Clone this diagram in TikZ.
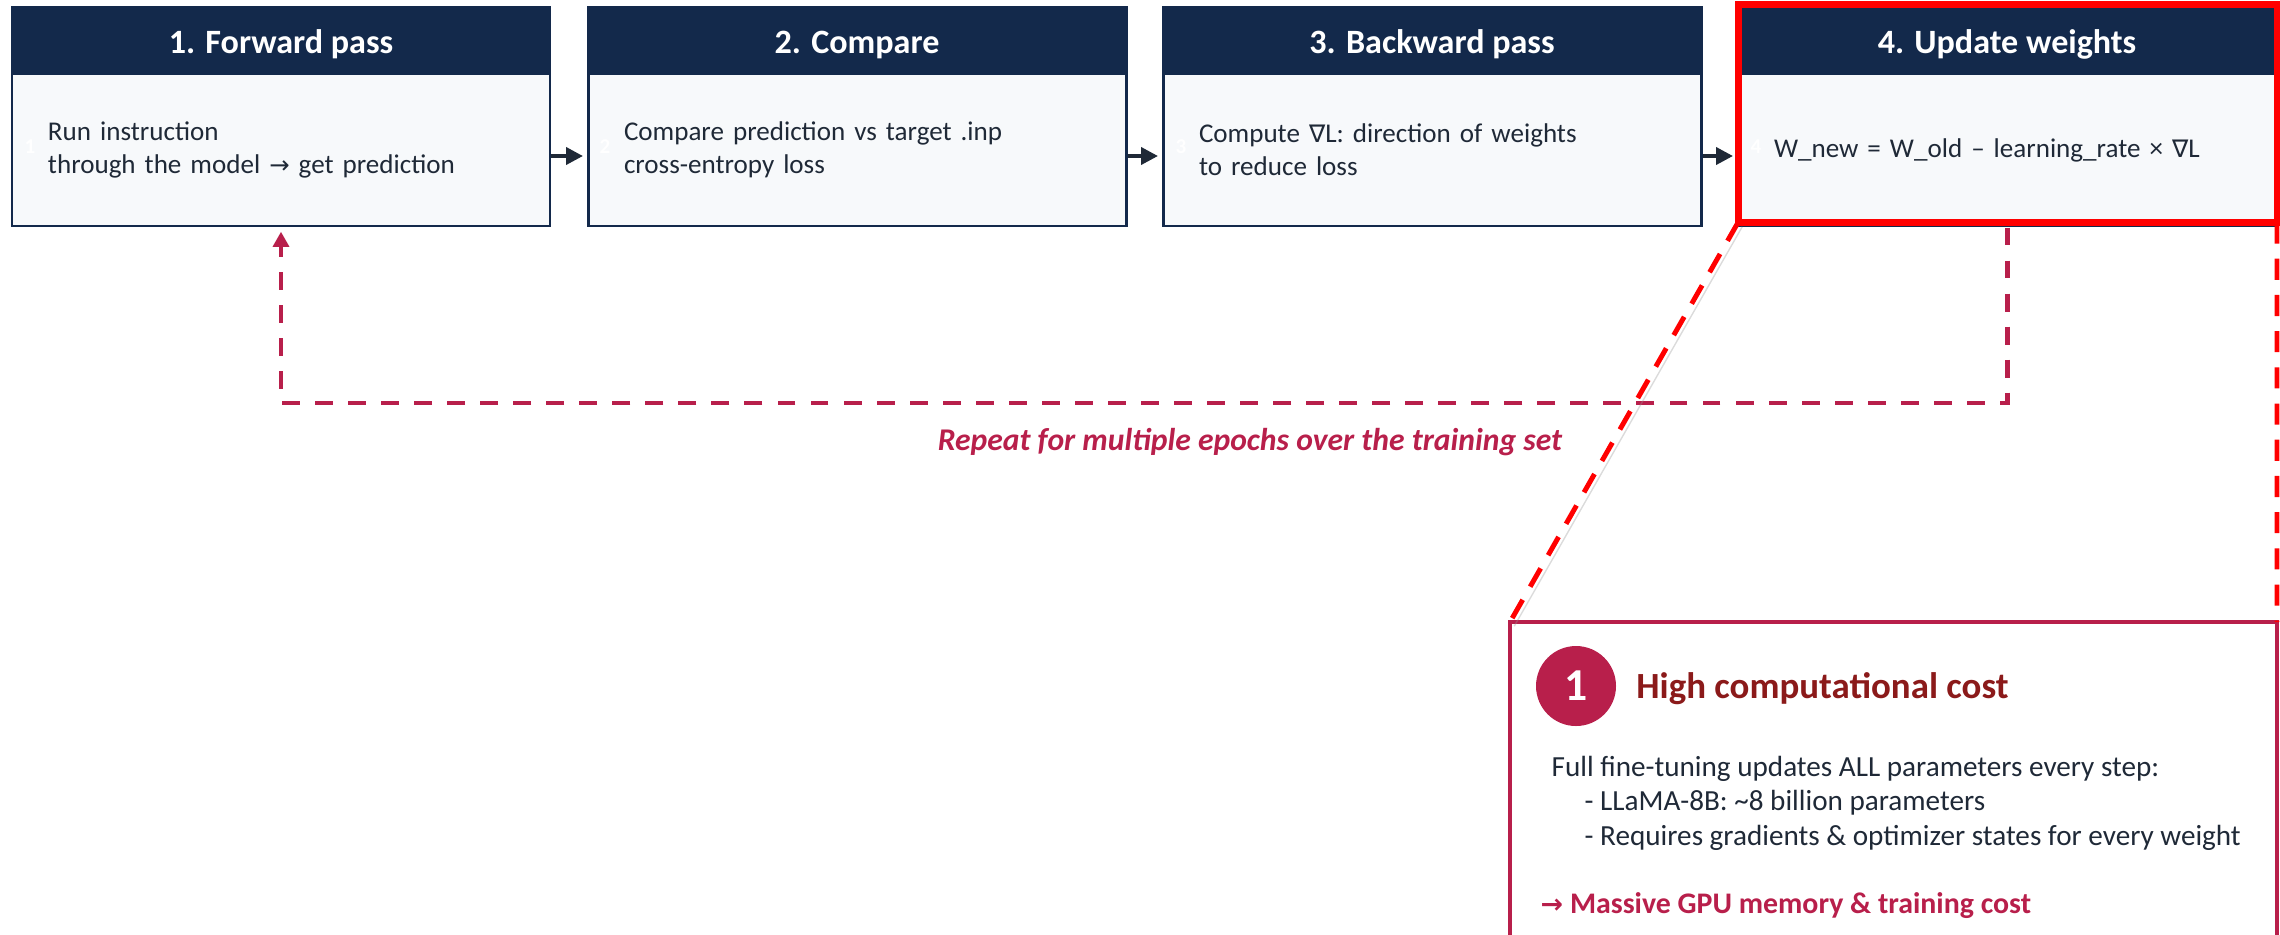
\documentclass[tikz,border=0pt]{standalone}
\usepackage{fontspec}
\setmainfont{Carlito}
\newfontfamily\symfont{DejaVu Sans}[Scale=0.9]
\usetikzlibrary{arrows.meta,positioning}

\definecolor{navy}{HTML}{13294B}
\definecolor{paper}{HTML}{F7F9FB}
\definecolor{ink}{HTML}{1F2937}
\definecolor{crimson}{HTML}{B81F4B}
\definecolor{costred}{HTML}{8B1A1A}
\definecolor{alertred}{HTML}{FF0000}

\tikzstyle{stephead}=[rectangle, draw=navy, fill=navy, line width=0.85pt, minimum width=5.38cm, minimum height=0.64cm, text=white, font=\fontsize{9.7}{11}\selectfont\bfseries, text height=0.95em, text depth=0.15em]
\tikzstyle{stepbody}=[rectangle, draw=navy, fill=paper, line width=0.85pt, minimum width=5.38cm, minimum height=1.52cm, text width=4.66cm, inner xsep=0.36cm, align=left, text=ink, font=\fontsize{7.7}{9.4}\selectfont]
\tikzstyle{ghost}=[inner sep=0pt, text=white, font=\fontsize{6}{7}\selectfont\bfseries]
\tikzstyle{flow}=[shorten >=1pt, draw=ink, line width=1.1pt, -{Triangle[length=4.8pt,width=4.8pt]}]
\tikzstyle{hl}=[rectangle, draw=alertred, line width=2pt, outer sep=0pt, minimum width=5.39cm, minimum height=2.18cm]
\tikzstyle{loopback}=[shorten >=1.2pt, draw=crimson, line width=1.3pt, dash pattern=on 5.1pt off 4.3pt, -{Triangle[length=4.3pt,width=4.5pt]}]
\tikzstyle{note}=[inner sep=0pt, text=crimson, font=\fontsize{9}{10.8}\selectfont\bfseries\itshape]
\tikzstyle{costbox}=[rectangle, draw=crimson, line width=1.1pt, outer sep=0pt, anchor=north west, minimum width=7.67cm, minimum height=3.6cm]
\tikzstyle{badge}=[circle, fill=crimson, minimum size=0.8cm, inner sep=0pt, text=white, font=\fontsize{13}{15}\selectfont\bfseries]
\tikzstyle{ctitle}=[inner sep=0pt, text=costred, font=\fontsize{10.5}{12.6}\selectfont\bfseries]
\tikzstyle{ctext}=[inner sep=0pt, anchor=base west, text=ink, font=\fontsize{8.3}{10}\selectfont]
\tikzstyle{zoomline}=[draw=alertred, line width=1.4pt, dash pattern=on 6pt off 4.3pt, preaction={draw=black!40, opacity=0.35, transform canvas={xshift=1.2pt,yshift=-1.2pt}}]

\begin{document}
\begin{tikzpicture}
	\useasboundingbox (0,0) rectangle (22.80,-9.34);
	\clip (0,0) rectangle (22.80,-9.34);

	%The four steps
	\draw (2.81,-0.39) node[stephead] (h1) {1. Forward pass};
	\node[stepbody, below=0pt of h1] (b1) {Run instruction\\through the model {\symfont →} get prediction};

	\draw (8.57,-0.39) node[stephead] (h2) {2. Compare};
	\node[stepbody, below=0pt of h2] (b2) {Compare prediction vs target .inp\\cross-entropy loss};

	\draw (14.32,-0.39) node[stephead] (h3) {3. Backward pass};
	\node[stepbody, below=0pt of h3] (b3) {Compute {\symfont ∇}L: direction of weights\\to reduce loss};

	\draw (20.07,-0.39) node[stephead] (h4) {4. Update weights};
	\node[stepbody, below=0pt of h4] (b4) {W\_new = W\_old – learning\_rate × {\symfont ∇}L};

	%Faint step numbers
	\draw (0.30,-1.47) node[ghost] (g1) {1};
	\draw (6.05,-1.47) node[ghost] (g2) {2};
	\draw (11.81,-1.47) node[ghost] (g3) {3};
	\draw (17.56,-1.47) node[ghost] (g4) {4};

	\draw[flow] ([yshift=-0.06cm]b1.east) -- ([yshift=-0.06cm]b2.west);
	\draw[flow] ([yshift=-0.06cm]b2.east) -- ([yshift=-0.06cm]b3.west);
	\draw[flow] ([yshift=-0.06cm]b3.east) -- ([yshift=-0.06cm]b4.west);

	%Highlight and loop back
	\draw (20.075,-1.135) node[hl] (hl) {};
	\draw[loopback] ([yshift=-0.05cm]hl.south) -- ++(0,-1.755) -| (b1.south);
	\draw (12.50,-4.42) node[note] (rep) {Repeat for multiple epochs over the training set};

	%The callout
	\draw (15.10,-6.22) node[costbox] (cb) {};
	\draw (15.76,-6.86) node[badge] (n1) {1};
	\node[ctitle, right=0.19cm of n1, yshift=-0.03cm] (ct) {High computational cost};
	\draw (15.51,-7.76) node[ctext] (c1) {Full fine-tuning updates ALL parameters every step:};
	\draw (15.84,-8.10) node[ctext] (c2) {- LLaMA-8B: \textasciitilde 8 billion parameters};
	\draw (15.84,-8.45) node[ctext] (c3) {- Requires gradients \& optimizer states for every weight};
	\draw (15.40,-9.13) node[ctext, text=crimson, font=\fontsize{8.5}{10.2}\selectfont\bfseries] (c4) {{\symfont →} Massive GPU memory \& training cost};

	\draw[zoomline] (hl.south west) -- (cb.north west);
	\draw[zoomline] (hl.south east) -- (cb.north east);
\end{tikzpicture}
\end{document}
